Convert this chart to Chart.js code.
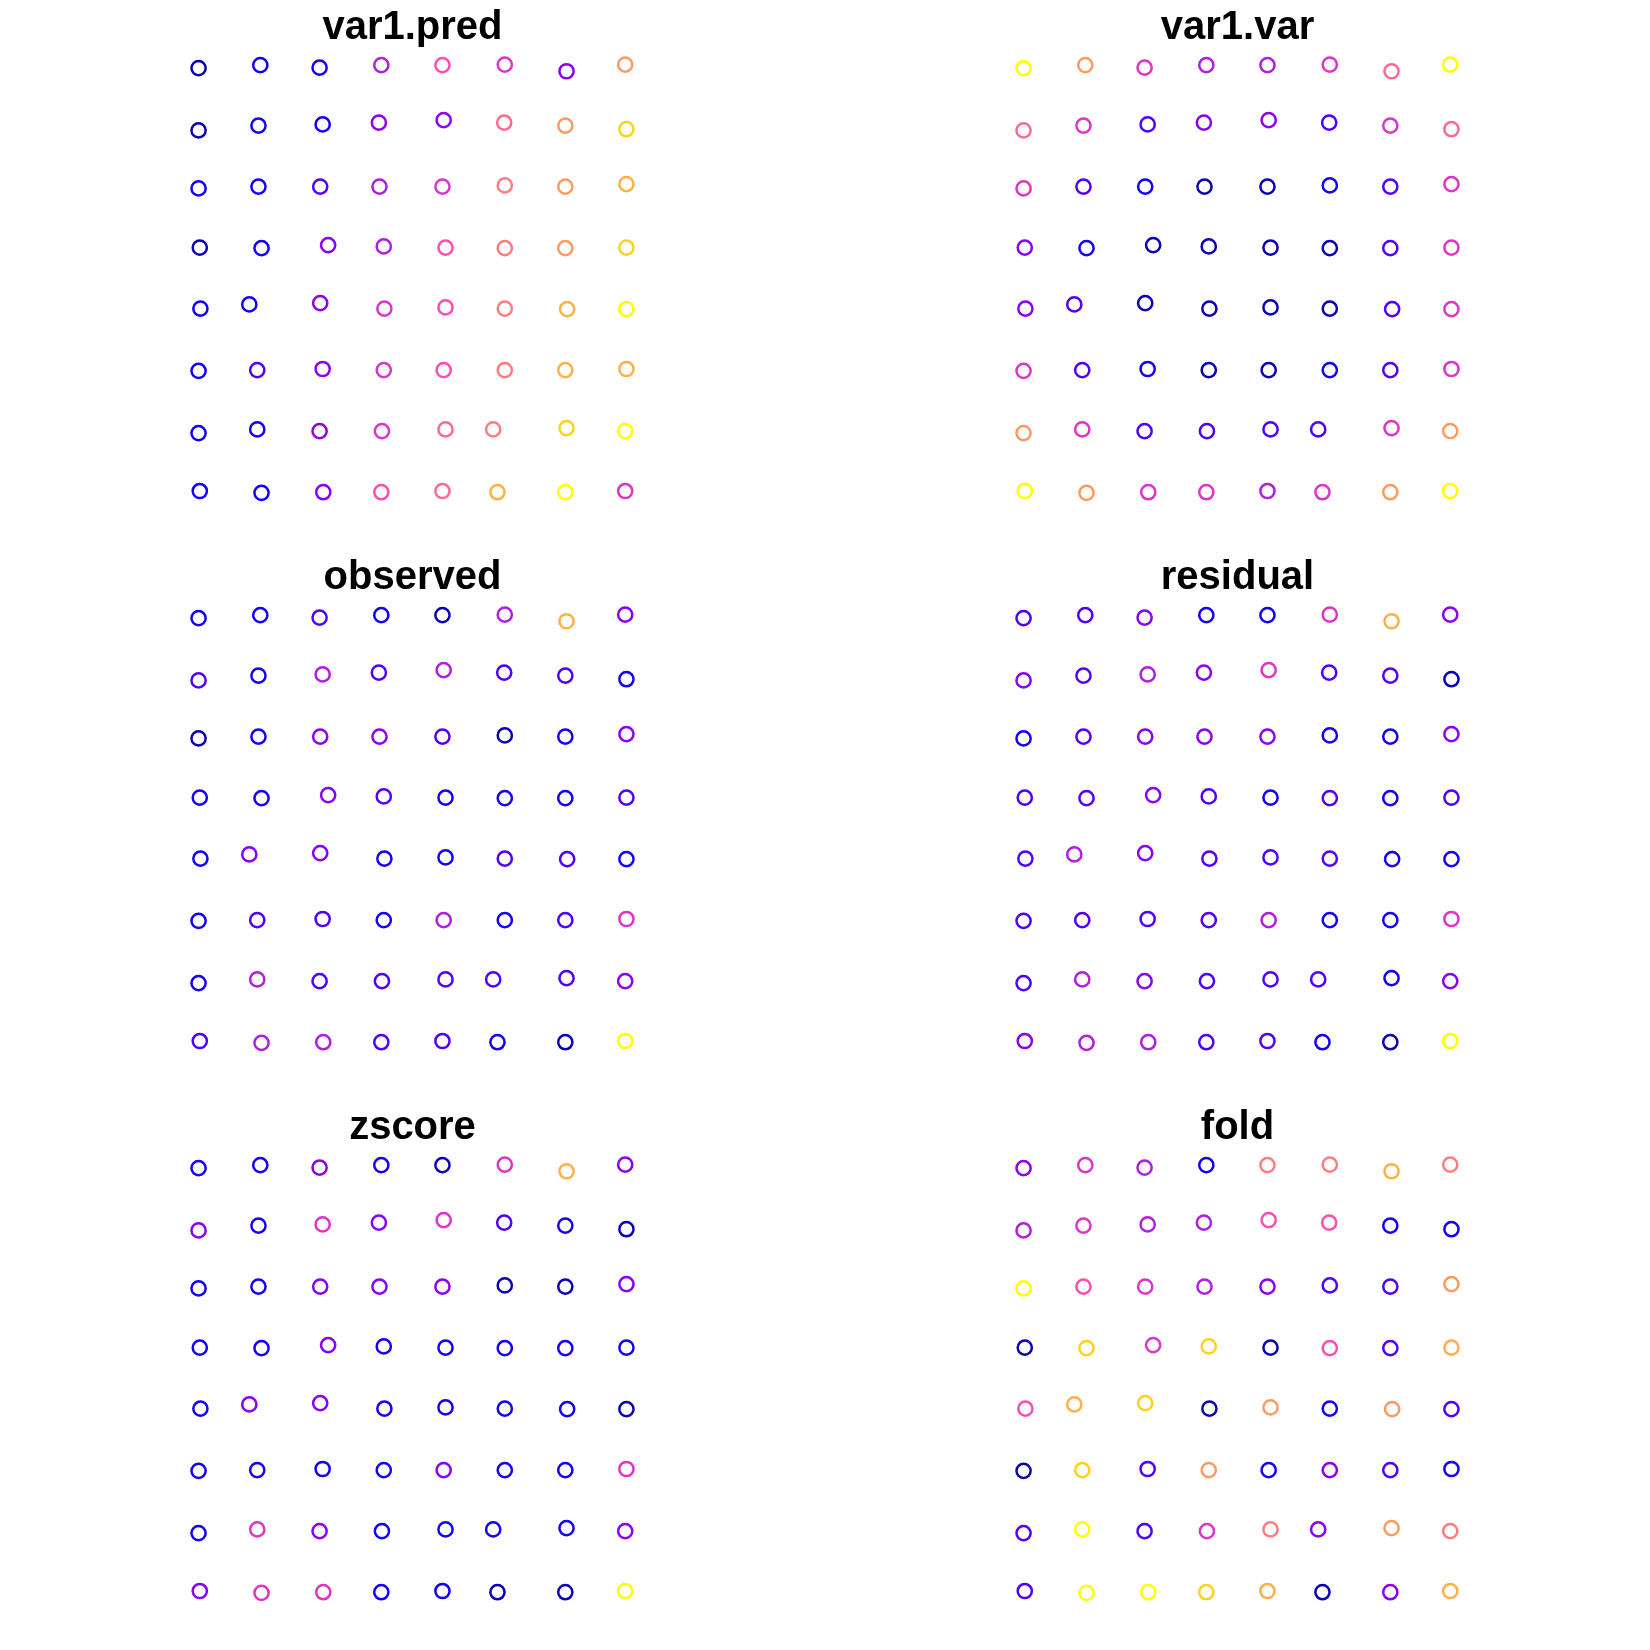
<!DOCTYPE html>
<html><head><meta charset="utf-8">
<script src="https://cdn.jsdelivr.net/npm/chart.js@4/dist/chart.umd.min.js"></script>
<style>
html,body{margin:0;padding:0;background:#fff;width:1650px;height:1650px;overflow:hidden}
.panel{position:absolute;width:489px;height:522px}
canvas{display:block}
</style></head><body>
<div class="panel" style="left:168px;top:0px"><canvas id="c0" width="489" height="522"></canvas></div>
<div class="panel" style="left:993px;top:0px"><canvas id="c1" width="489" height="522"></canvas></div>
<div class="panel" style="left:168px;top:550px"><canvas id="c2" width="489" height="522"></canvas></div>
<div class="panel" style="left:993px;top:550px"><canvas id="c3" width="489" height="522"></canvas></div>
<div class="panel" style="left:168px;top:1100px"><canvas id="c4" width="489" height="522"></canvas></div>
<div class="panel" style="left:993px;top:1100px"><canvas id="c5" width="489" height="522"></canvas></div>
<script>
// point locations (grid units), rows from top to bottom
const gridX = [
  0.00, 1.01, 1.98, 2.99, 3.99, 5.01, 6.02, 6.98,
  0.00, 0.98, 2.03, 2.95, 4.01, 5.00, 6.00, 7.00,
  0.00, 0.98, 1.99, 2.96, 3.99, 5.01, 6.00, 7.00,
  0.02, 1.03, 2.12, 3.03, 4.04, 5.01, 6.00, 7.00,
  0.03, 0.83, 1.99, 3.04, 4.04, 5.01, 6.03, 7.00,
  0.00, 0.96, 2.03, 3.03, 4.01, 5.01, 6.00, 7.00,
  0.00, 0.96, 1.98, 3.00, 4.04, 4.82, 6.02, 6.98,
  0.02, 1.03, 2.04, 2.99, 3.99, 4.89, 6.00, 6.98
];
const gridY = [
  7.00, 7.05, 7.01, 7.05, 7.05, 7.06, 6.95, 7.06,
  5.97, 6.05, 6.07, 6.10, 6.14, 6.10, 6.05, 5.99,
  5.01, 5.04, 5.04, 5.04, 5.04, 5.06, 5.04, 5.08,
  4.03, 4.02, 4.07, 4.05, 4.03, 4.02, 4.02, 4.03,
  3.02, 3.09, 3.11, 3.02, 3.04, 3.02, 3.01, 3.01,
  1.99, 2.00, 2.02, 2.00, 2.00, 2.00, 2.00, 2.02,
  0.96, 1.02, 0.99, 0.99, 1.02, 1.02, 1.04, 0.99,
  0.00, -0.03, -0.02, -0.02, 0.00, -0.02, -0.02, 0.00
];
const panelTitles = ['var1.pred', 'var1.var', 'observed', 'residual', 'zscore', 'fold'];
// colour class (0 = lowest .. 12 = highest) read for each point
const predClass = [
  0,1,1,4,6,5,3,9,
  0,1,1,3,3,7,9,11,
  1,1,2,4,5,8,9,10,
  0,1,3,4,6,8,9,11,
  1,1,3,5,6,8,10,12,
  1,2,3,5,6,8,10,10,
  1,1,3,5,7,8,11,12,
  1,1,3,6,7,10,12,5
];
const varClass = [
  12,9,5,4,4,5,7,12,
  7,5,2,3,3,2,5,7,
  5,2,1,0,0,1,2,5,
  3,1,0,0,0,0,2,5,
  3,2,0,0,0,0,2,5,
  5,2,1,0,0,1,2,5,
  9,5,2,2,2,2,5,9,
  12,9,5,5,4,5,9,12
];
const observedClass = [
  1,1,2,1,0,4,10,3,
  2,1,4,2,4,2,2,1,
  0,1,3,3,2,0,1,3,
  1,1,3,2,1,1,1,2,
  1,3,3,1,1,2,2,1,
  1,2,2,1,4,1,2,5,
  1,4,2,2,2,2,2,3,
  2,4,4,2,2,1,0,12
];
const residualClass = [
  2,2,3,1,1,5,10,3,
  3,2,4,3,5,2,2,0,
  1,2,3,3,3,1,1,3,
  2,2,3,2,1,2,1,2,
  2,4,3,2,2,2,1,1,
  2,2,2,2,4,1,1,5,
  2,4,3,2,2,2,1,3,
  3,4,4,2,2,1,0,12
];
const zscoreClass = [
  1,1,3,1,0,5,10,3,
  3,1,5,3,5,2,1,0,
  1,1,3,3,3,0,0,3,
  1,1,3,1,1,1,1,1,
  1,3,3,1,1,1,1,0,
  1,1,1,1,3,1,1,5,
  1,5,3,1,1,1,1,3,
  3,5,5,1,1,0,0,12
];
const foldClass = [
  3,5,4,1,8,8,10,8,
  4,5,4,4,6,6,1,1,
  12,6,5,4,3,2,2,9,
  0,11,5,11,0,6,2,10,
  6,10,11,0,9,1,9,2,
  0,11,2,9,1,3,2,1,
  2,12,2,5,8,3,9,8,
  2,12,12,11,10,0,3,10
];
const palette = ['#0A00B4','#1400FA','#5000FF','#8A00F5','#B01EE0','#DC35C8','#FF4DB0',
                 '#FF6A92','#FF7D7E','#FF9A60','#FFB046','#FFD21E','#FFFF00'];

const panelClasses = [predClass, varClass, observedClass, residualClass, zscoreClass, foldClass];

panelClasses.forEach((cls, k) => {
  const pts = gridX.map((x, i) => ({x: x, y: gridY[i]}));
  new Chart(document.getElementById('c' + k), {
    type: 'scatter',
    data: {
      datasets: [{
        data: pts,
        showLine: false,
        clip: false,
        pointStyle: 'circle',
        pointRadius: 7.1,
        pointHoverRadius: 7.1,
        pointBorderWidth: 2.5,
        pointBackgroundColor: 'rgba(0,0,0,0)',
        pointBorderColor: cls.map(c => palette[c])
      }]
    },
    options: {
      responsive: false,
      animation: false,
      events: [],
      layout: {padding: 0, autoPadding: false},
      plugins: {
        legend: {display: false},
        tooltip: {enabled: false},
        title: {
          display: true,
          text: panelTitles[k],
          color: '#000000',
          font: {family: '"Liberation Sans", Arial, sans-serif', size: 40, weight: 'bold', lineHeight: 1.2},
          padding: {top: 4, bottom: 1}
        }
      },
      scales: {
        x: {type: 'linear', min: -0.5, max: 7.5, display: false},
        y: {type: 'linear', min: -0.513, max: 7.252, display: false}
      }
    }
  });
});
</script>
</body></html>
